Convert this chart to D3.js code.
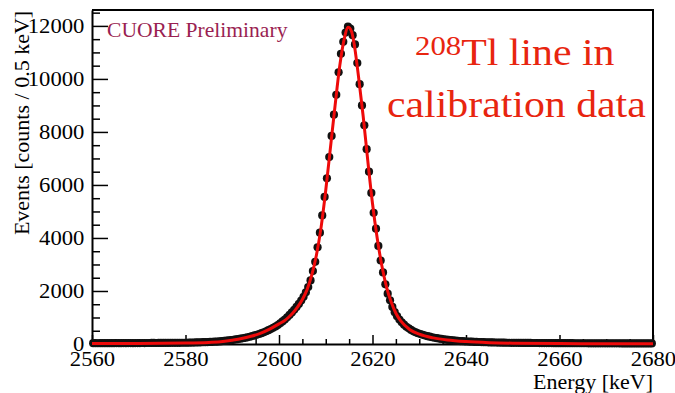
<!DOCTYPE html>
<html>
<head>
<meta charset="utf-8">
<script src="https://cdn.jsdelivr.net/npm/d3@7"></script>
<style>
  html, body { margin: 0; padding: 0; background: #fff; }
  svg, svg text { font-family: "Liberation Serif", "Times New Roman", serif; }
  svg { display: block; }
</style>
</head>
<body>
<div id="grafico"></div>
<script>
// spectrum: counts per 0.5 keV bin, first bin centred at 2560.25 keV
const binStart = 2560.25;
const binWidth = 0.5;
const counts = [
  // 2560.25 - 2585.75
  30, 32, 29, 31, 33, 30, 32, 33, 31, 32, 34, 32, 33, 35, 32, 34, 35, 33, 35, 36,
  35, 37, 36, 38, 37, 39, 40, 38, 41, 40, 42, 43, 41, 44, 45, 44, 46, 46, 47, 47,
  48, 50, 53, 55, 58, 61, 64, 67, 70, 74, 78, 83,
  // 2586.25 - 2599.75
  88, 92, 99, 107, 116, 125, 135, 146, 158, 171, 185, 200, 216, 234, 253, 274,
  297, 322, 349, 378, 410, 444, 481, 521, 564, 610, 660, 713,
  // 2600.25 - 2614.75
  780, 850, 925, 1005, 1095, 1190, 1290, 1400, 1510, 1640,
  1780, 1950, 2150, 2400, 2750, 3100, 3650, 4200, 4850, 5550,
  6250, 7050, 7850, 8650, 9400, 10250, 10950, 11400, 11750, 11970,
  // 2615.25 - 2639.75
  11900, 11650, 11300, 10600, 9800, 9000, 8250, 7350, 6500, 5700,
  4950, 4350, 3700, 3150, 2700, 2250, 1900, 1650, 1400, 1200,
  1050, 920, 820, 730, 650, 590, 530, 480, 440, 405,
  375, 345, 320, 295, 275, 255, 235, 220, 205, 190,
  178, 165, 155, 145, 135, 127, 120, 112, 105, 100,
  // 2640.25 - 2679.75
  95, 90, 86, 82, 78, 75, 72, 69, 66, 63, 61, 59, 57, 55, 53, 51, 50, 48, 47, 46,
  45, 44, 43, 42, 41, 40, 40, 39, 38, 38, 37, 36, 36, 35, 35, 34, 34, 33, 33, 32,
  32, 31, 31, 31, 30, 30, 29, 29, 29, 28, 28, 28, 27, 27, 27, 26, 26, 26, 25, 25,
  25, 25, 24, 24, 24, 24, 23, 23, 23, 23, 22, 22, 22, 22, 21, 21, 21, 21, 20, 20
];

// fitted line shape (energy in keV, counts)
const fitEnergy = [2560, 2570, 2580, 2585, 2588, 2590, 2592, 2594, 2596, 2598, 2600, 2601, 2602, 2603,
  2604, 2605, 2606, 2607, 2608, 2609, 2610, 2611, 2612, 2613, 2614, 2614.8, 2615.5, 2616, 2617,
  2618, 2619, 2620, 2621, 2622, 2623, 2624, 2625, 2626, 2628, 2630, 2633, 2636, 2640, 2645, 2650,
  2660, 2670, 2680];
const fitCounts = [15, 20, 35, 60, 95, 145, 205, 290, 400, 560, 760, 860, 1000, 1180,
  1400, 1680, 2050, 2600, 3350, 4400, 5800, 7400, 9000, 10500, 11550, 11950, 11800, 11400, 10100,
  8600, 6900, 5300, 4000, 2950, 2150, 1580, 1160, 880, 540, 370, 230, 150, 90, 50, 30,
  15, 10, 8];

const xTicks = [2560, 2580, 2600, 2620, 2640, 2660, 2680];
const yTicks = [0, 2000, 4000, 6000, 8000, 10000, 12000];

const width = 675, height = 393;
const margemEsq = 92, margemDir = 653, margemSup = 10, margemInf = 344;
const fonte = "Liberation Serif";

const svg = d3.select("#grafico").append("svg")
  .attr("width", width).attr("height", height);

const x = d3.scaleLinear().domain([2560, 2680]).range([margemEsq, margemDir]);
const y = d3.scaleLinear().domain([0, 12600]).range([margemInf, margemSup]);

const points = counts.map((c, i) => ({ e: binStart + i * binWidth, c: c }));
const fit = fitEnergy.map((e, i) => ({ e: e, c: fitCounts[i] }));

// frame
svg.append("path")
  .attr("d", `M${margemEsq},${margemSup}H${margemDir}V${margemInf}`)
  .attr("fill", "none").attr("stroke", "#000").attr("stroke-width", 2);

// minor ticks
svg.append("g")
  .attr("transform", `translate(0,${margemInf})`)
  .call(d3.axisBottom(x).tickValues(d3.range(2565, 2680, 5).filter(v => v % 20 !== 0))
    .tickSize(-5).tickFormat(""))
  .call(g => g.select(".domain").remove())
  .selectAll("line").attr("stroke-width", 1.5);

svg.append("g")
  .attr("transform", `translate(${margemEsq},0)`)
  .call(d3.axisLeft(y).tickValues(d3.range(500, 12600, 500).filter(v => v % 2000 !== 0))
    .tickSize(-8).tickFormat(""))
  .call(g => g.select(".domain").remove())
  .selectAll("line").attr("stroke-width", 1.5);

// major axes
const xAxis = svg.append("g")
  .attr("transform", `translate(0,${margemInf})`)
  .call(d3.axisBottom(x).tickValues(xTicks).tickFormat(d3.format("d"))
    .tickSize(-9).tickPadding(7).tickSizeOuter(0));

const yAxis = svg.append("g")
  .attr("transform", `translate(${margemEsq},0)`)
  .call(d3.axisLeft(y).tickValues(yTicks).tickFormat(d3.format("d"))
    .tickSize(-16).tickPadding(8).tickSizeOuter(0));

[xAxis, yAxis].forEach(g => {
  g.attr("font-family", null).attr("font-size", null);
  g.select(".domain").attr("stroke-width", 2);
  g.selectAll("line").attr("stroke-width", 1.5);
  g.selectAll("text")
    .style("font-family", fonte)
    .style("font-size", "21px")
    .attr("fill", "#000");
});
xAxis.selectAll("text").attr("transform", "scale(1.08,1)");
yAxis.selectAll("text").attr("transform", "scale(1.08,1)").attr("x", -7);

// data points
svg.append("g").selectAll("circle")
  .data(points).enter().append("circle")
  .attr("cx", d => x(d.e))
  .attr("cy", d => y(d.c))
  .attr("r", 4.1)
  .attr("fill", "#111");

// fit
svg.append("path")
  .datum(fit)
  .attr("fill", "none")
  .attr("stroke", "#ee0a0a")
  .attr("stroke-width", 3)
  .attr("stroke-linejoin", "round")
  .attr("d", d3.line().x(d => x(d.e)).y(d => y(d.c)).curve(d3.curveMonotoneX));

// axis titles
svg.append("text")
  .attr("transform", "translate(653,389) scale(1.1,1)")
  .attr("text-anchor", "end")
  .style("font-family", fonte)
  .style("font-size", "20px")
  .text("Energy [keV]");

svg.append("text")
  .attr("transform", "translate(29,123) rotate(-90)")
  .attr("text-anchor", "middle")
  .style("font-family", fonte)
  .style("font-size", "22px")
  .text("Events [counts / 0.5 keV]");

// labels
svg.append("text")
  .attr("transform", "translate(107,37) scale(1.08,1)")
  .style("font-family", fonte)
  .style("font-size", "20px")
  .attr("fill", "#9a1f52")
  .text("CUORE Preliminary");

const rotulo1 = svg.append("text")
  .attr("transform", "translate(415,65) scale(1.1,1)")
  .style("font-family", fonte)
  .style("font-size", "38px")
  .attr("fill", "#e8250f");
rotulo1.append("tspan").style("font-size", "28px").attr("dy", -10).text("208");
rotulo1.append("tspan").attr("dy", 10).text("Tl line in");

svg.append("text")
  .attr("transform", "translate(387,117) scale(1.1,1)")
  .style("font-family", fonte)
  .style("font-size", "38px")
  .attr("fill", "#e8250f")
  .text("calibration data");
</script>
</body>
</html>
